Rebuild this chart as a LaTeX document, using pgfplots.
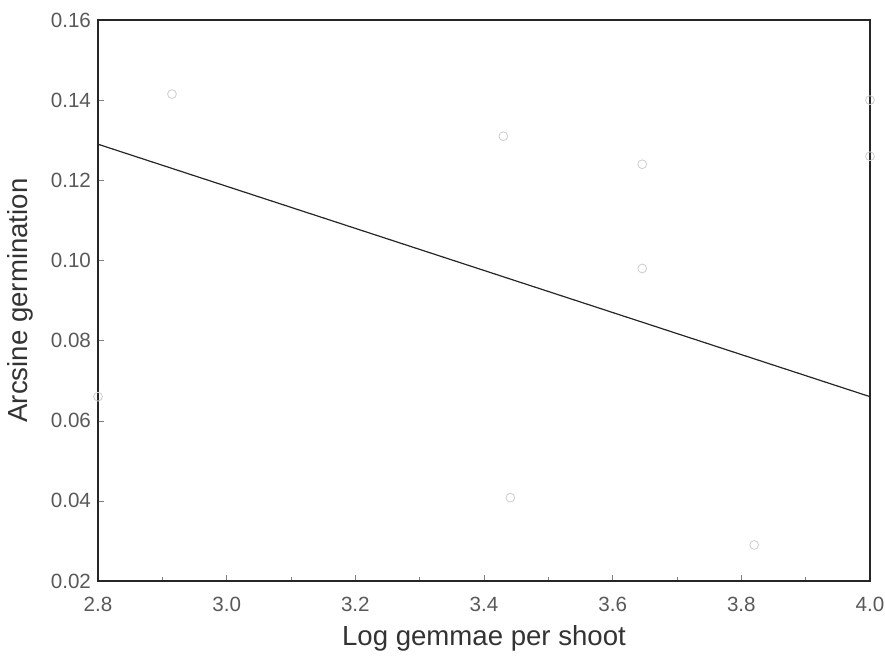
\documentclass[border=0pt]{standalone}
\usepackage{pgfplots}
\pgfplotsset{compat=1.18}
\usepackage{fontspec}
\setmainfont{Liberation Sans}
\usetikzlibrary{calc}
\begin{document}
\begin{tikzpicture}
\begin{axis}[
  scale only axis,
  width=386pt, height=280.5pt,
  xmin=2.8, xmax=4.0, ymin=0.02, ymax=0.16,
  xtick={2.8,3.0,3.2,3.4,3.6,3.8,4.0},
  ytick={0.02,0.04,0.06,0.08,0.10,0.12,0.14,0.16},
  minor xtick={2.9,3.1,3.3,3.5,3.7,3.9},
  tick align=inside,
  major tick length=3pt, minor tick length=2pt,
  xtick pos=bottom, ytick pos=left,
  /pgf/number format/assume math mode=true,
  xticklabel style={/pgf/number format/.cd,fixed,fixed zerofill,precision=1, /tikz/.cd, yshift=-4.5pt},
  yticklabel style={/pgf/number format/.cd,fixed,fixed zerofill,precision=2},
  ticklabel style={font=\fontsize{10.3}{12}\selectfont, text=black!65},
  xlabel={Log gemmae per shoot},
  ylabel={Arcsine germination},
  label style={font=\fontsize{13.8}{16}\selectfont, text=black!80},
  xlabel style={yshift=0pt},
  ylabel style={yshift=2pt},
  axis line style={black!85, line width=0.8pt},
  clip=false,
]
\addplot[only marks, mark=o, mark size=2.2pt, draw=black!20] coordinates {
  (2.915,0.1415) (3.43,0.131) (3.646,0.124) (3.646,0.098)
  (3.441,0.0408) (3.82,0.029) (4.0,0.140) (4.0,0.126) (2.8,0.066)
};
\addplot[black!85, line width=0.6pt] coordinates {(2.8,0.129) (4.0,0.066)};
\end{axis}
\pgfresetboundingbox
\path ($(current axis.south west)+(-49pt,-42pt)$) rectangle ($(current axis.north east)+(7.5pt,10pt)$);
\end{tikzpicture}
\end{document}
